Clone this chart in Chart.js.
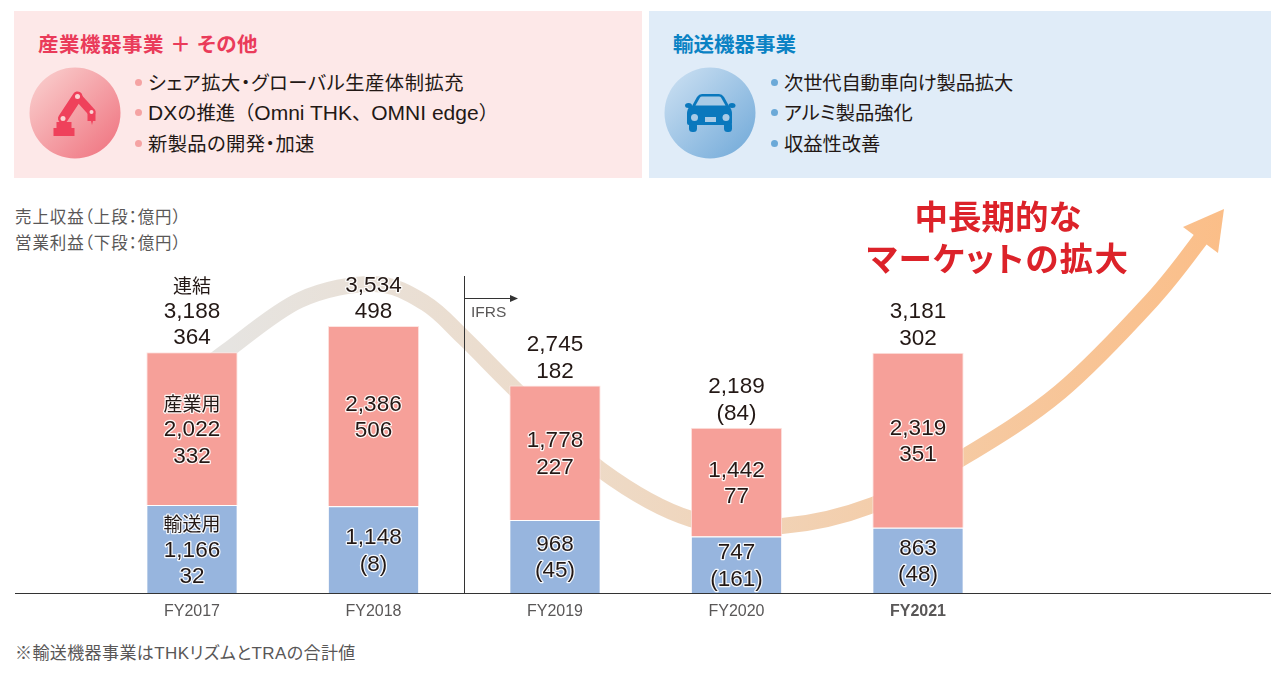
<!DOCTYPE html>
<html lang="ja">
<head>
<meta charset="utf-8">
<title>THK segments</title>
<script src="https://cdn.jsdelivr.net/npm/chart.js@4"></script>
<style>
  html, body { margin: 0; padding: 0; background: #fff; }
  body { width: 1271px; height: 686px; position: relative; overflow: hidden;
         font-family: "Liberation Sans", "Noto Sans CJK JP", sans-serif; color: #231815;
         font-feature-settings: "palt"; }
  .abs { position: absolute; white-space: nowrap; line-height: 1; }
  .panel { position: absolute; top: 11px; height: 167px; }
  .title { font-size: 20.5px; font-weight: bold; }
  .item { font-size: 19.3px; }
  .dot { position: absolute; width: 7px; height: 7px; border-radius: 50%; }
  .note { font-size: 16.5px; color: #595757; letter-spacing: 0.9px; }
  .big { font-size: 33.5px; font-weight: bold; color: #dc2229; text-align: center; width: 300px; }
  #icons { position: absolute; left: 0; top: 0; }
  #chart { position: absolute; left: 0; top: 0; }
</style>
</head>
<body>
<div class="panel" style="left:14px;width:628px;background:#fde8e8"></div>
<div class="panel" style="left:649px;width:622px;background:#e0ecf8"></div>

<svg id="icons" width="1271" height="686">
  <defs>
    <linearGradient id="pinkBall" x1="0" y1="0" x2="1" y2="1">
      <stop offset="0" stop-color="#fad4d2"/><stop offset="1" stop-color="#ef6f7c"/>
    </linearGradient>
    <linearGradient id="blueBall" x1="0" y1="0" x2="1" y2="1">
      <stop offset="0" stop-color="#cfe2f3"/><stop offset="1" stop-color="#6fa8d8"/>
    </linearGradient>
  </defs>
  <ellipse cx="75" cy="113" rx="45.5" ry="45.5" fill="url(#pinkBall)"/>
  <g stroke="#ef415b" fill="none" stroke-linecap="round">
    <line x1="63" y1="118.5" x2="77.5" y2="96.5" stroke-width="10"/>
    <line x1="77.5" y1="96.5" x2="91.5" y2="112" stroke-width="8"/>
  </g>
  <path d="M53.5 136 v-8 h3 v-6 h15 v6 h3 v8z" fill="#ef415b"/>
  <path d="M87.5 113 h8 v8 h-2.5 l-1 4 l-1 -4 h-3.5z" fill="#ef415b"/>
  <circle cx="63" cy="118.5" r="2.5" fill="#fbd3d3"/>
  <circle cx="77.5" cy="96.5" r="2.5" fill="#fbd3d3"/>
  <circle cx="91.5" cy="112" r="2" fill="#fbd3d3"/>

  <ellipse cx="710" cy="113" rx="45.5" ry="45.5" fill="url(#blueBall)"/>
  <g fill="#0a78bd">
    <path d="M692 106 l5 -9 q2 -3 5 -3 h17 q3 0 5 3 l5 9 q3 3 3 8 v9 q0 2 -2 2 h-41 q-2 0 -2 -2 v-9 q0 -5 3 -8z"/>
    <rect x="689" y="122" width="8" height="10" rx="3.5"/>
    <rect x="724" y="122" width="8" height="10" rx="3.5"/>
    <ellipse cx="688.5" cy="105.5" rx="3.5" ry="2.5"/>
    <ellipse cx="732" cy="105.5" rx="3.5" ry="2.5"/>
  </g>
  <path d="M695.5 105.5 l4.5 -8 q0.5 -1 2 -1 h17 q1.500 0 2 1 l4.500 8z" fill="#a9cbe6"/>
  <circle cx="694.5" cy="117.5" r="3.5" fill="#a9cbe6"/>
  <circle cx="726" cy="117.5" r="3.5" fill="#a9cbe6"/>
  <rect x="705" y="117" width="11" height="5" fill="#a9cbe6"/>
</svg>

<div class="abs title" style="left:38px;top:35px;color:#ea3b5a;letter-spacing:0.5px">産業機器事業 ＋ その他</div>
<div class="dot" style="left:135px;top:79px;background:#f5a3a3"></div>
<div class="abs item" style="left:148px;top:74px;letter-spacing:0.55px">シェア拡大・グローバル生産体制拡充</div>
<div class="dot" style="left:135px;top:109px;background:#f5a3a3"></div>
<div class="abs item" style="left:148px;top:102px;font-feature-settings:normal;letter-spacing:0"><span style="font-size:21px">DX</span>の推進（<span style="font-size:21px">Omni THK</span>、<span style="font-size:21px">OMNI edge</span>）</div>
<div class="dot" style="left:135px;top:140px;background:#f5a3a3"></div>
<div class="abs item" style="left:148px;top:135px;letter-spacing:0.4px">新製品の開発・加速</div>

<div class="abs title" style="left:673px;top:35px;color:#0a82c4">輸送機器事業</div>
<div class="dot" style="left:771px;top:79px;background:#6ba9d8"></div>
<div class="abs item" style="left:784px;top:74px;letter-spacing:-0.15px">次世代自動車向け製品拡大</div>
<div class="dot" style="left:771px;top:109px;background:#6ba9d8"></div>
<div class="abs item" style="left:784px;top:104px">アルミ製品強化</div>
<div class="dot" style="left:771px;top:140px;background:#6ba9d8"></div>
<div class="abs item" style="left:784px;top:135px">収益性改善</div>

<div class="abs note" style="left:15px;top:209px">売上収益（上段：億円）</div>
<div class="abs note" style="left:15px;top:235px">営業利益（下段：億円）</div>
<div class="abs note" style="left:15px;top:645px;font-size:17px;letter-spacing:0.4px">※輸送機器事業はTHKリズムとTRAの合計値</div>

<canvas id="chart" width="1271" height="686"></canvas>

<div class="abs big" style="left:848px;top:201px">中長期的な</div>
<div class="abs big" style="left:848px;top:243px;letter-spacing:1.4px">マーケットの拡大</div>

<script>
const categories = ["FY2017", "FY2018", "FY2019", "FY2020", "FY2021"];
const transportRevenue = [1166, 1148, 968, 747, 863];
const industrialRevenue = [2022, 2386, 1778, 1442, 2319];

// text shown with the bars, as printed
const totalRevenueLabels = ["3,188", "3,534", "2,745", "2,189", "3,181"];
const totalProfitLabels = ["364", "498", "182", "(84)", "302"];
const industrialRevenueLabels = ["2,022", "2,386", "1,778", "1,442", "2,319"];
const industrialProfitLabels = ["332", "506", "227", "77", "351"];
const transportRevenueLabels = ["1,166", "1,148", "968", "747", "863"];
const transportProfitLabels = ["32", "(8)", "(45)", "(161)", "(48)"];

const LATIN = '22.5px "Liberation Sans", "Noto Sans CJK JP", sans-serif';
const JP = '19px "Noto Sans CJK JP", sans-serif';
const LINE = 26.4;

function drawLines(ctx, x, y, lines) {
    ctx.textAlign = "center";
    ctx.textBaseline = "middle";
    lines.forEach((line, i) => {
        ctx.font = /[0-9]/.test(line) ? LATIN : JP;
        ctx.lineWidth = 2.5;
        ctx.lineJoin = "round";
        ctx.strokeStyle = "rgba(255,255,255,0.9)";
        ctx.strokeText(line, x, y + i * LINE);
        ctx.fillStyle = "#231815";
        ctx.fillText(line, x, y + i * LINE);
    });
}

// decorative market arrow behind the bars, plus baseline and IFRS marker
const decorPlugin = {
    id: "decor",
    beforeDatasetsDraw(chart) {
        const ctx = chart.ctx;
        const pts = [[205, 368], [228, 350], [300, 300], [374, 284], [425, 303], [464, 338],
            [520, 394], [601, 470], [691, 519], [782, 526], [873, 505], [964, 457],
            [1060, 392], [1152, 300], [1203, 236]];
        const grad = ctx.createLinearGradient(228, 0, 1225, 0);
        grad.addColorStop(0, "#e6e4e1");
        grad.addColorStop(0.4, "#eed9c4");
        grad.addColorStop(1, "#fbbe88");
        ctx.save();
        ctx.strokeStyle = grad;
        ctx.fillStyle = grad;
        ctx.lineWidth = 16;
        ctx.beginPath();
        ctx.moveTo(pts[0][0], pts[0][1]);
        for (let i = 0; i < pts.length - 1; i++) {
            const p0 = pts[Math.max(i - 1, 0)], p1 = pts[i], p2 = pts[i + 1];
            const p3 = pts[Math.min(i + 2, pts.length - 1)];
            ctx.bezierCurveTo(p1[0] + (p2[0] - p0[0]) / 6, p1[1] + (p2[1] - p0[1]) / 6,
                p2[0] - (p3[0] - p1[0]) / 6, p2[1] - (p3[1] - p1[1]) / 6, p2[0], p2[1]);
        }
        ctx.stroke();
        ctx.beginPath();
        ctx.moveTo(1224, 209);
        ctx.lineTo(1183, 227);
        ctx.lineTo(1218, 253);
        ctx.closePath();
        ctx.fill();
        ctx.restore();
    },
    afterDatasetsDraw(chart) {
        const ctx = chart.ctx;
        const base = chart.scales.y.getPixelForValue(0);
        ctx.save();
        ctx.strokeStyle = "#333";
        ctx.lineWidth = 1;
        ctx.beginPath();
        ctx.moveTo(15, base + 0.5);
        ctx.lineTo(1271, base + 0.5);
        ctx.moveTo(464.5, 276);
        ctx.lineTo(464.5, base);
        ctx.moveTo(464.5, 298.5);
        ctx.lineTo(512, 298.5);
        ctx.stroke();
        ctx.fillStyle = "#333";
        ctx.beginPath();
        ctx.moveTo(518, 298.5);
        ctx.lineTo(510, 295);
        ctx.lineTo(510, 302);
        ctx.closePath();
        ctx.fill();
        ctx.fillStyle = "#595757";
        ctx.font = '15.5px "Liberation Sans", sans-serif';
        ctx.textAlign = "left";
        ctx.textBaseline = "middle";
        ctx.fillText("IFRS", 471, 313);

        const low = chart.getDatasetMeta(0).data;
        const high = chart.getDatasetMeta(1).data;
        categories.forEach((c, i) => {
            const x = low[i].x;
            const top = [totalRevenueLabels[i], totalProfitLabels[i]];
            if (i === 0) top.unshift("連結");
            drawLines(ctx, x, high[i].y - 14 - (top.length - 1) * LINE, top);

            const mid = [industrialRevenueLabels[i], industrialProfitLabels[i]];
            if (i === 0) mid.unshift("産業用");
            const midY = (high[i].y + low[i].y) / 2 + 1.5 - (mid.length - 1) * LINE / 2;
            drawLines(ctx, x, midY, mid);

            const bot = [transportRevenueLabels[i], transportProfitLabels[i]];
            if (i === 0) bot.unshift("輸送用");
            const botY = (low[i].y + base) / 2 + 1.5 - (bot.length - 1) * LINE / 2;
            drawLines(ctx, x, botY, bot);
        });
        ctx.restore();
    }
};

new Chart("chart", {
    type: "bar",
    data: {
        labels: categories,
        datasets: [
            { label: "輸送用", data: transportRevenue, backgroundColor: "#97b5de", borderColor: "#fff", borderWidth: 1 },
            { label: "産業用", data: industrialRevenue, backgroundColor: "#f6a099", borderColor: "#fde5e2", borderWidth: 1 }
        ]
    },
    options: {
        responsive: false,
        animation: false,
        layout: { padding: { left: 101.25, right: 262.25, top: 0, bottom: 0 } },
        datasets: { bar: { barPercentage: 0.503, categoryPercentage: 1 } },
        plugins: { legend: { display: false }, tooltip: { enabled: false } },
        scales: {
            x: {
                stacked: true,
                grid: { display: false },
                border: { display: false },
                afterFit(scale) { scale.height = 93; },
                ticks: {
                    padding: 1,
                    color: "#595757",
                    maxRotation: 0,
                    font: (c) => ({
                        family: '"Liberation Sans", sans-serif',
                        size: 16,
                        weight: c.index === 4 ? "bold" : "normal"
                    })
                }
            },
            y: { stacked: true, display: false, min: 0, max: 7850 }
        }
    },
    plugins: [decorPlugin]
});
</script>
</body>
</html>
